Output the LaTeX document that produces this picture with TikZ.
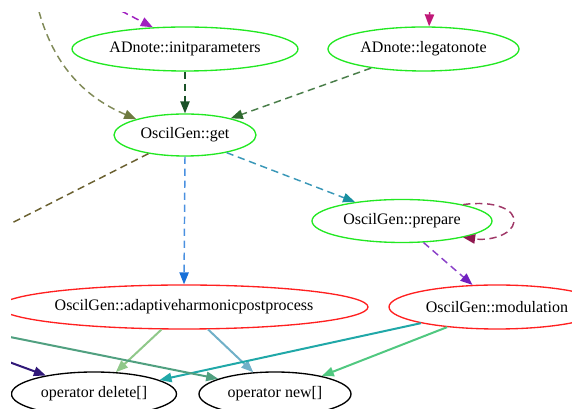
\documentclass[tikz,border=0pt]{standalone}
\usepackage{fontspec}
\setmainfont{Liberation Serif}
\usetikzlibrary{arrows.meta,shapes.geometric}
\definecolor{cgreen}{HTML}{22E822}
\definecolor{cred}{HTML}{FF2020}
\definecolor{colive}{HTML}{808A58}
\definecolor{coliveh}{HTML}{6E7A40}
\definecolor{cmag}{HTML}{A020C0}
\definecolor{cdkgreen}{HTML}{1A5228}
\definecolor{cleg}{HTML}{4A7E4A}
\definecolor{clegh}{HTML}{2F6A2F}
\definecolor{cpink}{HTML}{C01878}
\definecolor{cbrown}{HTML}{6A6030}
\definecolor{ccyan}{HTML}{3A98B8}
\definecolor{ccyanh}{HTML}{1890A0}
\definecolor{cblue}{HTML}{4A90E0}
\definecolor{cblueh}{HTML}{1870D8}
\definecolor{cloop}{HTML}{A03868}
\definecolor{clooph}{HTML}{901850}
\definecolor{cpurp}{HTML}{8A40C8}
\definecolor{cpurph}{HTML}{7020C0}
\definecolor{clgreen}{HTML}{90C88A}
\definecolor{clblue}{HTML}{70B0C8}
\definecolor{cteal}{HTML}{20A8A8}
\definecolor{cmgreen}{HTML}{50C880}
\definecolor{ctgreen}{HTML}{50A080}
\definecolor{cnavy}{HTML}{301878}
\begin{document}
\begin{tikzpicture}[x=0.75pt,y=-0.75pt,
  fn/.style={ellipse,draw,line width=1pt,inner sep=0pt,
    font=\fontsize{12pt}{14pt}\selectfont},
  gnode/.style={fn,draw=cgreen},
  rnode/.style={fn,draw=cred},
  bnode/.style={fn,draw=black},
  tip/.style={-{Triangle[length=9pt,width=7pt,#1]}},
  edge/.style={line width=1.1pt,tip=},
  dedge/.style={edge,dash pattern=on 5.5pt off 3.5pt},
  sedge/.style={line width=1.5pt,tip=}]
\useasboundingbox (0,0) rectangle (572,409);
\begin{scope}
\clip (11,13) rectangle (572,409);
\node[gnode,minimum width=169.5pt,minimum height=33pt] (init) at (185,49) {ADnote::initparameters};
\node[gnode,minimum width=143.25pt,minimum height=33pt] (leg) at (423.5,49) {ADnote::legatonote};
\node[gnode,minimum width=106.5pt,minimum height=31.5pt] (get) at (185,135) {OscilGen::get};
\node[gnode,minimum width=135pt,minimum height=32.25pt] (prep) at (402,221) {OscilGen::prepare};
\node[rnode,minimum width=276pt,minimum height=33pt] (adapt) at (184,307) {OscilGen::adaptiveharmonicpostprocess};
\node[rnode,minimum width=162pt,minimum height=33pt] (mod) at (497,307) {OscilGen::modulation};
\node[bnode,minimum width=123.75pt,minimum height=33pt] (del) at (94,394) {operator delete[]};
\node[bnode,minimum width=114pt,minimum height=33pt] (new) at (275,394) {operator new[]};

\coordinate (inOlive) at (36,0);
\coordinate (inMag) at (100,0);
\coordinate (inPink) at (430,0);
\coordinate (outBrown) at (0,229);
\coordinate (inNavy) at (-10,355);
\coordinate (inTeal) at (-10,333);

\draw[dedge,draw=colive,tip={color=coliveh}] (inOlive) .. controls (50,60) and (80,95) .. (get.162);
\draw[dedge,draw=cmag] (inMag) -- (init.146);
\draw[dedge,draw=cpink] (inPink) -- (leg.76);
\draw[dedge,draw=cdkgreen] (init.south) -- (get.north);
\draw[dedge,draw=cleg,tip={color=clegh}] (leg.200.6) -- (get.20.7);
\draw[line width=1.1pt,dash pattern=on 5.5pt off 3.5pt,draw=cbrown] (get.207.2) -- (outBrown);
\draw[dedge,draw=ccyan,tip={color=ccyanh}] (get.337.3) -- (prep.158.2);
\draw[dedge,draw=cblue,tip={color=cblueh}] (get.south) -- (adapt.north);
\draw[dedge,draw=cloop,tip={color=clooph}] (prep.15) .. controls (495,200) and (516,210) .. (514,222) .. controls (512,235) and (490,241) .. (prep.345);
\draw[dedge,draw=cpurp,tip={color=cpurph}] (prep.315) -- (mod.138.8);
\draw[sedge,draw=clgreen] (adapt.225) -- (del.45);
\draw[sedge,draw=clblue] (adapt.317.6) -- (new.135);
\draw[sedge,draw=cteal] (mod.192.2) -- (del.12.9);
\draw[sedge,draw=cmgreen] (mod.202.2) -- (new.21.6);
\draw[sedge,draw=ctgreen] (inTeal) -- (new.165.7);
\draw[sedge,draw=cnavy] (inNavy) -- (del.159);
\end{scope}
\end{tikzpicture}
\end{document}
